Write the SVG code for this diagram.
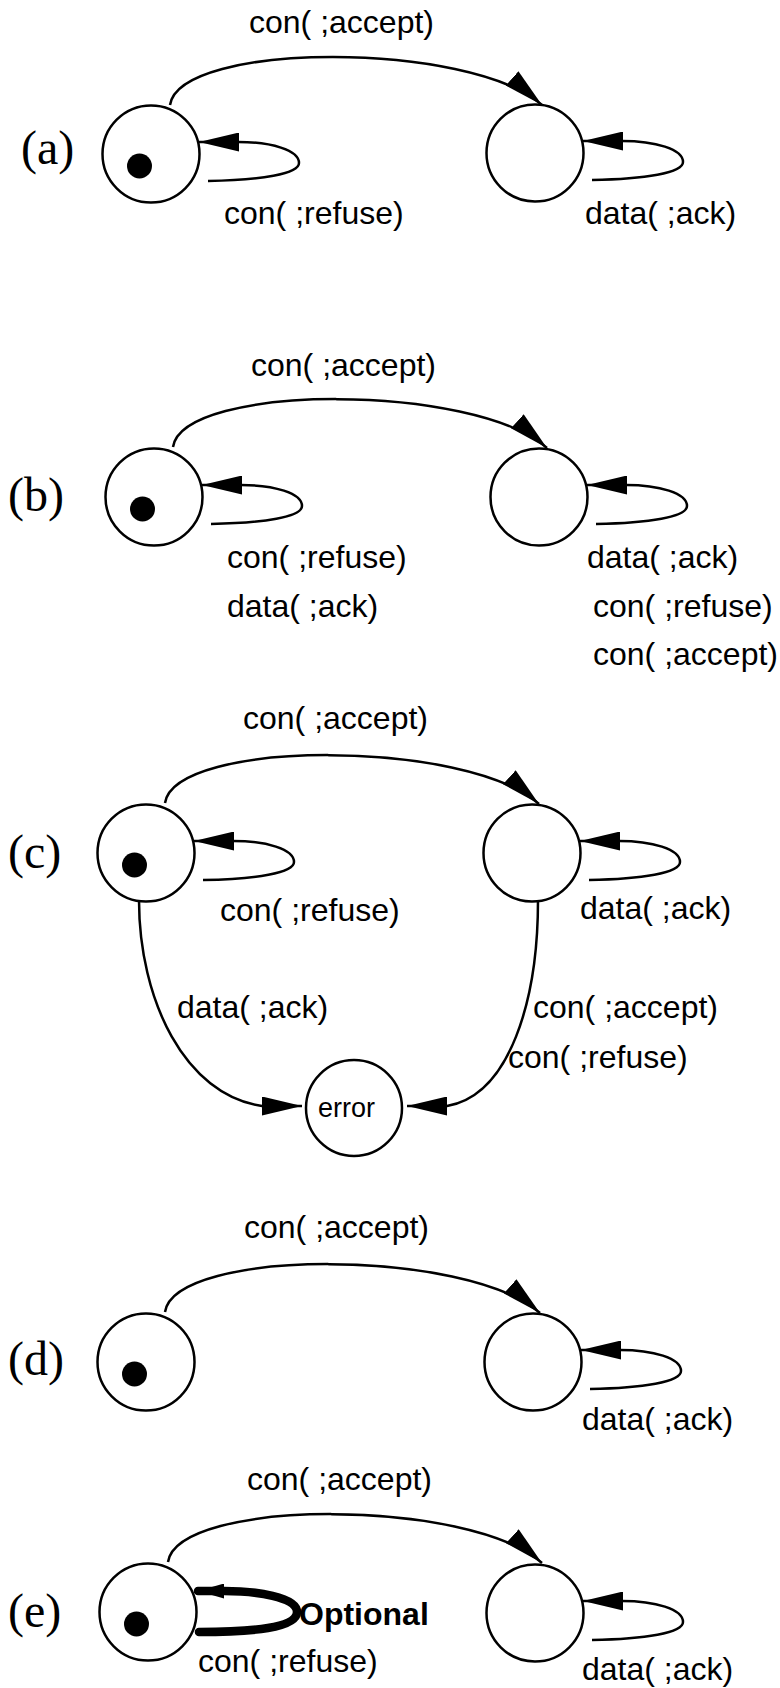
<svg xmlns="http://www.w3.org/2000/svg" width="780" height="1688" viewBox="0 0 780 1688">
<style>
.st{fill:#fff;stroke:#000;stroke-width:2.5}
.dot{fill:#000}
.ln{fill:none;stroke:#000;stroke-width:2.5}
.thick{fill:none;stroke:#000;stroke-width:8.5;stroke-linecap:round}
.lb{font-family:"Liberation Sans",Arial,Helvetica,sans-serif;font-size:32px;fill:#000}
.pl{font-family:"Liberation Serif","Times New Roman",serif;font-size:48px;fill:#000}
.opt{font-family:"Liberation Sans",Arial,Helvetica,sans-serif;font-size:32px;font-weight:bold;fill:#000}
.err{font-family:"Liberation Sans",Arial,Helvetica,sans-serif;font-size:27px;fill:#000}
</style>
<defs>
<marker id="ah" markerUnits="userSpaceOnUse" viewBox="0 0 40 19" refX="40" refY="9.5" markerWidth="40" markerHeight="19" orient="auto"><path d="M0,0 L40,9.5 L0,19 z" fill="#000"/></marker>
<marker id="ahs" markerUnits="userSpaceOnUse" viewBox="0 0 26 15" refX="26" refY="7.5" markerWidth="26" markerHeight="15" orient="auto"><path d="M0,0 L26,7.5 L0,15 z" fill="#000"/></marker>
</defs>
<rect width="780" height="1688" fill="#fff"/>

<g id="panel-labels">
<text class="pl" x="21" y="164">(a)</text>
<text class="pl" x="8" y="511">(b)</text>
<text class="pl" x="8" y="868">(c)</text>
<text class="pl" x="8" y="1375">(d)</text>
<text class="pl" x="8" y="1627">(e)</text>
</g>

<g id="connectors">
<!-- (a) -->
<path class="ln" d="M170,105 C180,41 470,41 542,105" marker-end="url(#ah)"/>
<path class="ln" transform="translate(151,154)" d="M57,27 C110,26 148,20 148,9 C148,-4 120,-12 87,-12 L48,-12" marker-end="url(#ah)"/>
<path class="ln" transform="translate(535,153)" d="M57,27 C110,26 148,20 148,9 C148,-4 120,-12 87,-12 L48,-12" marker-end="url(#ah)"/>
<!-- (b) -->
<path class="ln" d="M173,447 C183,383 475,383 547,448" marker-end="url(#ah)"/>
<path class="ln" transform="translate(154,497)" d="M57,27 C110,26 148,20 148,9 C148,-4 120,-12 87,-12 L48,-12" marker-end="url(#ah)"/>
<path class="ln" transform="translate(539,497)" d="M57,27 C110,26 148,20 148,9 C148,-4 120,-12 87,-12 L48,-12" marker-end="url(#ah)"/>
<!-- (c) -->
<path class="ln" d="M165,803 C175,739 467,739 539,804" marker-end="url(#ah)"/>
<path class="ln" transform="translate(146,853)" d="M57,27 C110,26 148,20 148,9 C148,-4 120,-12 87,-12 L48,-12" marker-end="url(#ah)"/>
<path class="ln" transform="translate(532,853)" d="M57,27 C110,26 148,20 148,9 C148,-4 120,-12 87,-12 L48,-12" marker-end="url(#ah)"/>
<path class="ln" d="M139,900 C139,1000 185,1095 262,1106 L302,1106" marker-end="url(#ah)"/>
<path class="ln" d="M538,900 C538,1000 510,1095 447,1106 L407,1106" marker-end="url(#ah)"/>
<!-- (d) -->
<path class="ln" d="M165,1312 C175,1248 467,1248 540,1313" marker-end="url(#ah)"/>
<path class="ln" transform="translate(533,1362)" d="M57,27 C110,26 148,20 148,9 C148,-4 120,-12 87,-12 L48,-12" marker-end="url(#ah)"/>
<!-- (e) -->
<path class="ln" d="M168,1562 C178,1498 470,1498 542,1563" marker-end="url(#ah)"/>
<path class="thick" d="M199,1632 C252,1632 297,1628 297,1612 C297,1597 256,1591 224,1591 L198,1591" marker-end="url(#ahs)"/>
<path class="ln" transform="translate(535,1613)" d="M57,27 C110,26 148,20 148,9 C148,-4 120,-12 87,-12 L48,-12" marker-end="url(#ah)"/>
</g>

<g id="a-s0"><circle class="st" cx="151" cy="154" r="48.5"/><circle class="dot" cx="139.5" cy="166" r="12.5"/></g>
<g id="a-s1"><circle class="st" cx="535" cy="153" r="48.5"/></g>
<g id="b-s0"><circle class="st" cx="154" cy="497" r="48.5"/><circle class="dot" cx="142.5" cy="509" r="12.5"/></g>
<g id="b-s1"><circle class="st" cx="539" cy="497" r="48.5"/></g>
<g id="c-s0"><circle class="st" cx="146" cy="853" r="48.5"/><circle class="dot" cx="134.5" cy="865" r="12.5"/></g>
<g id="c-s1"><circle class="st" cx="532" cy="853" r="48.5"/></g>
<g id="c-error"><circle class="st" cx="354" cy="1108" r="48"/><text class="err" x="318" y="1117">error</text></g>
<g id="d-s0"><circle class="st" cx="146" cy="1362" r="48.5"/><circle class="dot" cx="134.5" cy="1374" r="12.5"/></g>
<g id="d-s1"><circle class="st" cx="533" cy="1362" r="48.5"/></g>
<g id="e-s0"><circle class="st" cx="148" cy="1612" r="48.5"/><circle class="dot" cx="136.5" cy="1624" r="12.5"/></g>
<g id="e-s1"><circle class="st" cx="535" cy="1613" r="48.5"/></g>

<g id="edge-labels">
<text class="lb" x="249" y="33">con( ;accept)</text>
<text class="lb" x="224" y="224">con( ;refuse)</text>
<text class="lb" x="585" y="224">data( ;ack)</text>

<text class="lb" x="251" y="376">con( ;accept)</text>
<text class="lb" x="227" y="568">con( ;refuse)</text>
<text class="lb" x="227" y="617">data( ;ack)</text>
<text class="lb" x="587" y="568">data( ;ack)</text>
<text class="lb" x="593" y="617">con( ;refuse)</text>
<text class="lb" x="593" y="665">con( ;accept)</text>

<text class="lb" x="243" y="729">con( ;accept)</text>
<text class="lb" x="220" y="921">con( ;refuse)</text>
<text class="lb" x="580" y="919">data( ;ack)</text>
<text class="lb" x="177" y="1018">data( ;ack)</text>
<text class="lb" x="533" y="1018">con( ;accept)</text>
<text class="lb" x="508" y="1068">con( ;refuse)</text>

<text class="lb" x="244" y="1238">con( ;accept)</text>
<text class="lb" x="582" y="1430">data( ;ack)</text>

<text class="lb" x="247" y="1490">con( ;accept)</text>
<text class="opt" x="299" y="1625">Optional</text>
<text class="lb" x="198" y="1672">con( ;refuse)</text>
<text class="lb" x="582" y="1680">data( ;ack)</text>
</g>
</svg>
